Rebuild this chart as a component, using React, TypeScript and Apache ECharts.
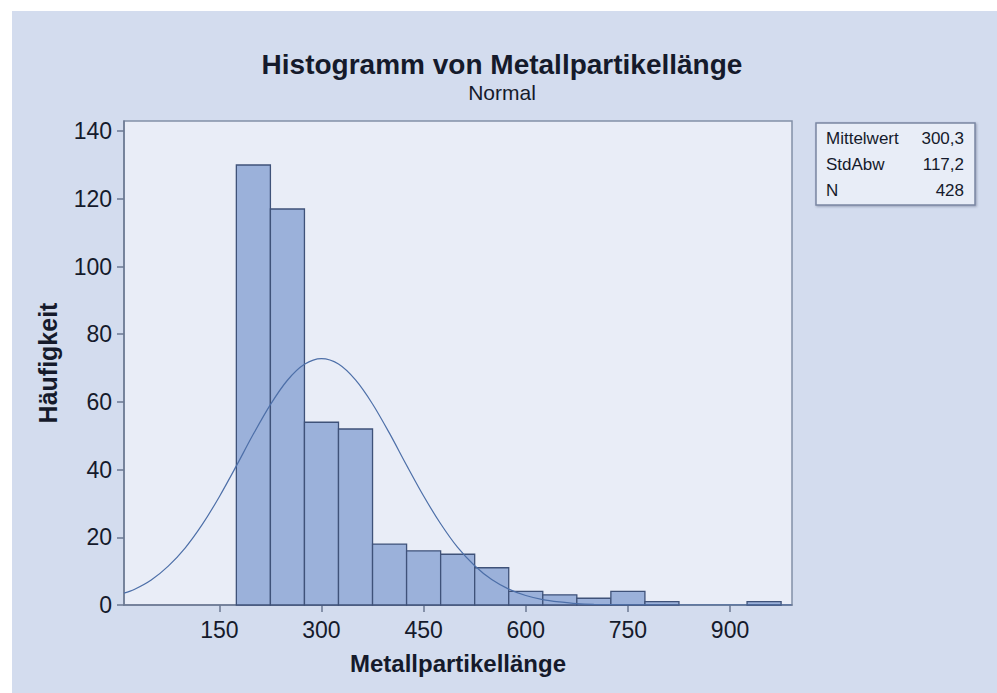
import React, { useEffect, useRef } from "react";
import * as echarts from "echarts";

// ---- data ----
const binStarts = [175, 225, 275, 325, 375, 425, 475, 525, 575, 625, 675, 725, 775, 825, 875, 925];
const binWidth = 50;
const counts = [130, 117, 54, 52, 18, 16, 15, 11, 4, 3, 2, 4, 1, 0, 0, 1];

// fitted normal curve
const curveX = [10, 25, 50, 75, 100, 125, 150, 175, 200, 225, 250, 275, 300, 325, 350, 375, 400, 425, 450, 475, 500, 525, 550, 575, 600, 625, 650, 675, 700, 750, 800, 990];
const curveY = [3.5, 4.6, 7.4, 11.5, 16.9, 23.8, 32.0, 41.1, 50.5, 59.2, 66.4, 71.1, 72.8, 71.2, 66.5, 59.4, 50.7, 41.3, 32.2, 24.0, 17.0, 11.6, 7.5, 4.7, 2.8, 1.6, 0.9, 0.4, 0.2, 0.05, 0.01, 0];

const xTicks = [150, 300, 450, 600, 750, 900];
const yTicks = [0, 20, 40, 60, 80, 100, 120, 140];

const statLabels = ["Mittelwert", "StdAbw", "N"];
const statValues = ["300,3", "117,2", "428"];

const titleText = "Histogramm von Metallpartikellänge";
const subtitleText = "Normal";
const xName = "Metallpartikellänge";
const yName = "Häufigkeit";

const FONT = "'Liberation Sans', Arial, sans-serif";
const TXT = "#151a2b";

export default function App() {
  const ref = useRef<HTMLDivElement>(null);
  useEffect(() => {
    if (!ref.current) return;
    const chart = echarts.init(ref.current, null, { renderer: "svg" });
    const barData = binStarts.map((s, i) => [s, s + binWidth, counts[i]]);
    const statGraphics: any[] = [];
    statLabels.forEach((l, i) => {
      statGraphics.push({
        type: "text",
        x: 826,
        y: 138 + i * 26,
        style: { text: l, fontSize: 17, fontFamily: FONT, fill: TXT, verticalAlign: "middle" },
        z: 20,
      });
      statGraphics.push({
        type: "text",
        x: 964,
        y: 138 + i * 26,
        style: { text: statValues[i], fontSize: 17, fontFamily: FONT, fill: TXT, align: "right", verticalAlign: "middle" },
        z: 20,
      });
    });
    chart.setOption({
      animation: false,
      backgroundColor: "#ffffff",
      title: [
        {
          text: titleText,
          left: 497,
          top: 45,
          textAlign: "center",
          textStyle: { fontSize: 28, fontWeight: "bold", fontFamily: FONT, color: TXT },
        },
        {
          text: subtitleText,
          left: 497,
          top: 77,
          textAlign: "center",
          textStyle: { fontSize: 21, fontWeight: "normal", fontFamily: FONT, color: TXT },
        },
      ],
      graphic: [
        { type: "rect", shape: { x: 12, y: 11, width: 985, height: 682 }, style: { fill: "#d3dcee" }, z: -10, silent: true },
        {
          type: "rect",
          shape: { x: 816, y: 123, width: 159, height: 82 },
          style: { fill: "#e8edf7", stroke: "#7a87a3", lineWidth: 1.5, shadowBlur: 2, shadowOffsetX: 1, shadowOffsetY: 1, shadowColor: "rgba(60,70,100,0.4)" },
          z: 10,
        },
        ...statGraphics,
      ],
      grid: {
        left: 124,
        top: 121,
        width: 668,
        height: 484,
        show: true,
        backgroundColor: "#e9edf7",
        borderColor: "#8390a8",
        borderWidth: 1.5,
      },
      xAxis: {
        type: "value",
        min: 10,
        max: 991,
        name: xName,
        nameLocation: "middle",
        nameGap: 46,
        nameTextStyle: { fontSize: 24, fontWeight: "bold", fontFamily: FONT, color: TXT },
        axisLine: { show: true, onZero: false, lineStyle: { color: "#6b7892", width: 1.5 } },
        axisTick: { show: true, length: 7, customValues: xTicks, lineStyle: { color: "#6b7892", width: 1.5 } },
        axisLabel: { customValues: xTicks, fontSize: 23, fontFamily: FONT, color: TXT, margin: 13 },
        splitLine: { show: false },
      },
      yAxis: {
        type: "value",
        min: 0,
        max: 143,
        name: yName,
        nameLocation: "middle",
        nameGap: 64,
        nameRotate: 90,
        nameTextStyle: { fontSize: 25, fontWeight: "bold", fontFamily: FONT, color: TXT },
        axisLine: { show: true, lineStyle: { color: "#6b7892", width: 1.5 } },
        axisTick: { show: true, length: 7, customValues: yTicks, lineStyle: { color: "#6b7892", width: 1.5 } },
        axisLabel: { customValues: yTicks, fontSize: 23, fontFamily: FONT, color: TXT, margin: 12 },
        splitLine: { show: false },
      },
      series: [
        {
          type: "custom",
          data: barData,
          encode: { x: [0, 1], y: 2 },
          renderItem: (params: any, api: any) => {
            const s = api.value(0);
            const e = api.value(1);
            const c = api.value(2);
            if (c <= 0) return null;
            const p0 = api.coord([s, c]);
            const p1 = api.coord([e, 0]);
            return {
              type: "rect",
              shape: { x: p0[0], y: p0[1], width: p1[0] - p0[0], height: p1[1] - p0[1] },
              style: { fill: "#9bb1da", stroke: "#3f5279", lineWidth: 1.3 },
            };
          },
          z: 2,
        },
        {
          type: "line",
          data: curveX.map((x, i) => [x, curveY[i]]),
          smooth: 0.3,
          showSymbol: false,
          lineStyle: { color: "#4d6fa8", width: 1.2 },
          z: 5,
        },
      ],
    });
    return () => chart.dispose();
  }, []);
  return <div ref={ref} style={{ position: "absolute", left: 0, top: 0, width: 997, height: 693 }} />;
}
